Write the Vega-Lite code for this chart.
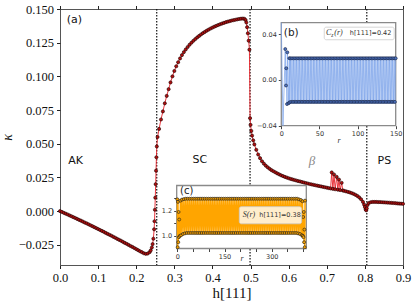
{
"$schema": "https://vega.github.io/schema/vega-lite/v6.json",
"width": 343, "height": 256,
"autosize": {"type": "none"},
"padding": {"left": 60, "top": 9, "right": 13, "bottom": 39},
"config": {
  "view": {"stroke": "#555", "strokeWidth": 1},
  "axis": {"domain": false, "grid": false, "tickColor": "#222", "tickSize": 3.5, "labelColor": "#111", "labelOverlap": false, "labelFlush": false}
},
"datasets": {
  "vl": [{"h": 0.2538}, {"h": 0.4987}, {"h": 0.805}],
  "main": [
{"h":0,"k":0},{"h":0.005,"k":-0.0006},{"h":0.01,"k":-0.0013},{"h":0.015,"k":-0.0019},{"h":0.02,"k":-0.0025},{"h":0.025,"k":-0.0032},{"h":0.03,"k":-0.0038},{"h":0.035,"k":-0.0045},{"h":0.04,"k":-0.0051},{"h":0.045,"k":-0.0058},{"h":0.05,"k":-0.0065},{"h":0.055,"k":-0.0071},{"h":0.06,"k":-0.0078},{"h":0.065,"k":-0.0085},{"h":0.07,"k":-0.0091},{"h":0.075,"k":-0.0098},{"h":0.08,"k":-0.0105},{"h":0.085,"k":-0.0112},{"h":0.09,"k":-0.0119},{"h":0.095,"k":-0.0126},{"h":0.1,"k":-0.0133},{"h":0.105,"k":-0.014},{"h":0.11,"k":-0.0147},{"h":0.115,"k":-0.0154},{"h":0.12,"k":-0.0162},{"h":0.125,"k":-0.0169},{"h":0.13,"k":-0.0176},{"h":0.135,"k":-0.0183},{"h":0.14,"k":-0.0191},{"h":0.145,"k":-0.0198},{"h":0.15,"k":-0.0206},{"h":0.155,"k":-0.0213},{"h":0.16,"k":-0.022},{"h":0.165,"k":-0.0228},{"h":0.17,"k":-0.0236},{"h":0.175,"k":-0.0243},{"h":0.18,"k":-0.0251},{"h":0.185,"k":-0.0259},{"h":0.19,"k":-0.0266},{"h":0.195,"k":-0.0274},{"h":0.2,"k":-0.0282},{"h":0.205,"k":-0.029},{"h":0.21,"k":-0.0298},{"h":0.215,"k":-0.0305},{"h":0.22,"k":-0.0313},{"h":0.225,"k":-0.0317},{"h":0.23,"k":-0.0315},{"h":0.235,"k":-0.0305},{"h":0.238,"k":-0.0292},{"h":0.241,"k":-0.027},{"h":0.243,"k":-0.0245},{"h":0.245,"k":-0.0205},{"h":0.247,"k":-0.0135},{"h":0.248,"k":-0.0075},{"h":0.249,"k":0.001},{"h":0.25,"k":0.01},{"h":0.251,"k":0.02},{"h":0.252,"k":0.03},{"h":0.253,"k":0.04},{"h":0.254,"k":0.048},{"h":0.256,"k":0.055},
{"h":0.26,"k":0.061},{"h":0.265,"k":0.068},{"h":0.27,"k":0.074},{"h":0.275,"k":0.08},{"h":0.28,"k":0.0855},{"h":0.285,"k":0.0905},{"h":0.29,"k":0.0955},{"h":0.295,"k":0.1},{"h":0.3,"k":0.104},{"h":0.305,"k":0.1075},{"h":0.31,"k":0.1105},{"h":0.315,"k":0.1133},{"h":0.32,"k":0.1158},{"h":0.325,"k":0.118},{"h":0.33,"k":0.12},{"h":0.335,"k":0.1218},{"h":0.34,"k":0.1235},{"h":0.345,"k":0.125},{"h":0.35,"k":0.1264},{"h":0.355,"k":0.1277},{"h":0.36,"k":0.1289},{"h":0.365,"k":0.13},{"h":0.37,"k":0.1311},{"h":0.375,"k":0.1321},{"h":0.38,"k":0.133},{"h":0.385,"k":0.1339},{"h":0.39,"k":0.1347},{"h":0.395,"k":0.1355},{"h":0.4,"k":0.1362},{"h":0.405,"k":0.1369},{"h":0.41,"k":0.1375},{"h":0.415,"k":0.1381},{"h":0.42,"k":0.1387},{"h":0.425,"k":0.1392},{"h":0.43,"k":0.1397},{"h":0.435,"k":0.1402},{"h":0.44,"k":0.1406},{"h":0.445,"k":0.141},{"h":0.45,"k":0.1414},{"h":0.455,"k":0.1417},{"h":0.46,"k":0.142},{"h":0.465,"k":0.1423},{"h":0.47,"k":0.1426},{"h":0.475,"k":0.1428},{"h":0.48,"k":0.1429},{"h":0.484,"k":0.1427},{"h":0.487,"k":0.1418},{"h":0.489,"k":0.14},{"h":0.491,"k":0.1365},{"h":0.493,"k":0.132},{"h":0.495,"k":0.1265},{"h":0.497,"k":0.1198},{"h":0.4987,"k":0.069},{"h":0.5,"k":0.064},{"h":0.502,"k":0.0595},{"h":0.504,"k":0.056},{"h":0.507,"k":0.0525},{"h":0.51,"k":0.0495},{"h":0.515,"k":0.0455},{"h":0.52,"k":0.042},{"h":0.525,"k":0.0393},{"h":0.53,"k":0.037},{"h":0.535,"k":0.0352},{"h":0.54,"k":0.0337},{"h":0.545,"k":0.0325},{"h":0.55,"k":0.0314},{"h":0.555,"k":0.0304},{"h":0.56,"k":0.0296},{"h":0.565,"k":0.0288},{"h":0.57,"k":0.028},{"h":0.575,"k":0.0273},{"h":0.58,"k":0.0266},{"h":0.585,"k":0.026},{"h":0.59,"k":0.0254},{"h":0.595,"k":0.0249},{"h":0.6,"k":0.0244},{"h":0.605,"k":0.0239},{"h":0.61,"k":0.0235},{"h":0.615,"k":0.0231},{"h":0.62,"k":0.0227},{"h":0.625,"k":0.0223},{"h":0.63,"k":0.022},{"h":0.635,"k":0.0216},{"h":0.64,"k":0.0212},{"h":0.645,"k":0.0208},{"h":0.65,"k":0.0205},{"h":0.655,"k":0.0201},{"h":0.66,"k":0.0198},{"h":0.665,"k":0.0195},{"h":0.67,"k":0.0192},{"h":0.675,"k":0.0189},{"h":0.68,"k":0.0186},{"h":0.685,"k":0.0183},{"h":0.69,"k":0.018},{"h":0.695,"k":0.0177},{"h":0.7,"k":0.0174},{"h":0.705,"k":0.0171},{"h":0.71,"k":0.0168},{"h":0.713,"k":0.0287},{"h":0.716,"k":0.0165},{"h":0.719,"k":0.0272},{"h":0.722,"k":0.0162},{"h":0.726,"k":0.0254},{"h":0.729,"k":0.0159},{"h":0.732,"k":0.0234},{"h":0.735,"k":0.0156},{"h":0.739,"k":0.021},{"h":0.742,"k":0.0153},{"h":0.745,"k":0.0151},{"h":0.75,"k":0.0147},{"h":0.755,"k":0.0143},{"h":0.76,"k":0.0139},{"h":0.765,"k":0.0134},{"h":0.77,"k":0.0128},{"h":0.775,"k":0.0121},{"h":0.78,"k":0.0113},{"h":0.785,"k":0.0102},{"h":0.79,"k":0.0088},{"h":0.795,"k":0.0068},{"h":0.798,"k":0.0048},{"h":0.8,"k":0.003},{"h":0.802,"k":0.0012},{"h":0.8035,"k":0.0006},{"h":0.805,"k":0.002},{"h":0.807,"k":0.0045},{"h":0.81,"k":0.006},{"h":0.815,"k":0.0066},{"h":0.82,"k":0.0068},{"h":0.825,"k":0.0068},{"h":0.83,"k":0.0068},{"h":0.835,"k":0.0067},{"h":0.84,"k":0.0067},{"h":0.845,"k":0.0066},{"h":0.85,"k":0.0065},{"h":0.855,"k":0.0064},{"h":0.86,"k":0.0063},{"h":0.865,"k":0.0062},{"h":0.87,"k":0.0061},{"h":0.875,"k":0.006},{"h":0.88,"k":0.0059},{"h":0.885,"k":0.0057},{"h":0.89,"k":0.0056},{"h":0.895,"k":0.0055},{"h":0.9,"k":0.0054}
  ],
  "labels": [{"t":"(a)","h":0.038,"k":0.1415},{"t":"AK","h":0.041,"k":0.0374},{"t":"SC","h":0.367,"k":0.0377},{"t":"PS","h":0.851,"k":0.0374}],
  "cz": [
{"r":0,"c":0.25},{"r":2.2,"c":-0.12},{"r":5.2,"c":0.027},{"r":6.2,"c":-0.0049},{"r":6.5,"c":0.0102},{"r":7.5,"c":-0.0211},{"r":7.9,"c":0.0241},{"r":9.7,"c":-0.0203},{"r":10.5,"c":0.019},{"r":11,"c":-0.0195},
{"r":12,"c":0.0189},{"r":13,"c":-0.0192},{"r":14,"c":0.0189},{"r":15,"c":-0.0192},{"r":16,"c":0.0189},{"r":17,"c":-0.0192},{"r":18,"c":0.0189},{"r":19,"c":-0.0192},{"r":20,"c":0.0189},{"r":21,"c":-0.0192},{"r":22,"c":0.0189},{"r":23,"c":-0.0192},{"r":24,"c":0.0189},{"r":25,"c":-0.0192},{"r":26,"c":0.0189},{"r":27,"c":-0.0192},{"r":28,"c":0.0189},{"r":29,"c":-0.0192},{"r":30,"c":0.0189},{"r":31,"c":-0.0192},{"r":32,"c":0.0189},{"r":33,"c":-0.0192},{"r":34,"c":0.0189},{"r":35,"c":-0.0192},{"r":36,"c":0.0189},{"r":37,"c":-0.0192},{"r":38,"c":0.0189},{"r":39,"c":-0.0192},{"r":40,"c":0.0189},{"r":41,"c":-0.0192},{"r":42,"c":0.0189},{"r":43,"c":-0.0192},{"r":44,"c":0.0189},{"r":45,"c":-0.0192},{"r":46,"c":0.0189},{"r":47,"c":-0.0192},{"r":48,"c":0.0189},{"r":49,"c":-0.0192},{"r":50,"c":0.0189},{"r":51,"c":-0.0192},{"r":52,"c":0.0189},{"r":53,"c":-0.0192},{"r":54,"c":0.0189},{"r":55,"c":-0.0192},{"r":56,"c":0.0189},{"r":57,"c":-0.0192},{"r":58,"c":0.0189},{"r":59,"c":-0.0192},{"r":60,"c":0.0189},{"r":61,"c":-0.0192},{"r":62,"c":0.0189},{"r":63,"c":-0.0192},{"r":64,"c":0.0189},{"r":65,"c":-0.0192},{"r":66,"c":0.0189},{"r":67,"c":-0.0192},{"r":68,"c":0.0189},{"r":69,"c":-0.0192},{"r":70,"c":0.0189},{"r":71,"c":-0.0192},{"r":72,"c":0.0189},{"r":73,"c":-0.0192},{"r":74,"c":0.0189},{"r":75,"c":-0.0192},{"r":76,"c":0.0189},{"r":77,"c":-0.0192},{"r":78,"c":0.0189},{"r":79,"c":-0.0192},{"r":80,"c":0.0189},{"r":81,"c":-0.0192},{"r":82,"c":0.0189},{"r":83,"c":-0.0192},{"r":84,"c":0.0189},{"r":85,"c":-0.0192},{"r":86,"c":0.0189},{"r":87,"c":-0.0192},{"r":88,"c":0.0189},{"r":89,"c":-0.0192},{"r":90,"c":0.0189},{"r":91,"c":-0.0192},{"r":92,"c":0.0189},{"r":93,"c":-0.0192},{"r":94,"c":0.0189},{"r":95,"c":-0.0192},{"r":96,"c":0.0189},{"r":97,"c":-0.0192},{"r":98,"c":0.0189},{"r":99,"c":-0.0192},{"r":100,"c":0.0189},{"r":101,"c":-0.0192},{"r":102,"c":0.0189},{"r":103,"c":-0.0192},{"r":104,"c":0.0189},{"r":105,"c":-0.0192},{"r":106,"c":0.0189},{"r":107,"c":-0.0192},{"r":108,"c":0.0189},{"r":109,"c":-0.0192},{"r":110,"c":0.0189},{"r":111,"c":-0.0192},{"r":112,"c":0.0189},{"r":113,"c":-0.0192},{"r":114,"c":0.0189},{"r":115,"c":-0.0192},{"r":116,"c":0.0189},{"r":117,"c":-0.0192},{"r":118,"c":0.0189},{"r":119,"c":-0.0192},{"r":120,"c":0.0189},{"r":121,"c":-0.0192},{"r":122,"c":0.0189},{"r":123,"c":-0.0192},{"r":124,"c":0.0189},{"r":125,"c":-0.0192},{"r":126,"c":0.0189},{"r":127,"c":-0.0192},{"r":128,"c":0.0189},{"r":129,"c":-0.0192},{"r":130,"c":0.0189},{"r":131,"c":-0.0192},{"r":132,"c":0.0189},{"r":133,"c":-0.0192},{"r":134,"c":0.0189},{"r":135,"c":-0.0192},{"r":136,"c":0.0189},{"r":137,"c":-0.0192},{"r":138,"c":0.0189},{"r":139,"c":-0.0192},{"r":140,"c":0.0189},{"r":141,"c":-0.0192},{"r":142,"c":0.0189},{"r":143,"c":-0.0192},{"r":144,"c":0.0189},{"r":145,"c":-0.0192},{"r":146,"c":0.0189},{"r":147,"c":-0.0192},{"r":148,"c":0.0189},{"r":149,"c":-0.0192},{"r":150,"c":0.0189}
  ],
  "sr": [
{"r":0,"s":1.29},{"r":1,"s":0.91},{"r":2,"s":1.27},{"r":3,"s":0.95},{"r":4,"s":1.19},{"r":5,"s":0.99},{"r":6,"s":1.13},{"r":8,"s":1.0},{"r":10,"s":1.28},{"r":12,"s":1.005},{"r":15,"s":1.288},{"r":18,"s":1.015},{"r":21,"s":1.292},{"r":24,"s":1.02},
{"r":27,"s":1.295},{"r":30,"s":1.023},{"r":33,"s":1.295},{"r":36,"s":1.023},{"r":39,"s":1.295},{"r":42,"s":1.023},{"r":45,"s":1.295},{"r":48,"s":1.023},{"r":51,"s":1.295},{"r":54,"s":1.023},{"r":57,"s":1.295},{"r":60,"s":1.023},{"r":63,"s":1.295},{"r":66,"s":1.023},{"r":69,"s":1.295},{"r":72,"s":1.023},{"r":75,"s":1.295},{"r":78,"s":1.023},{"r":81,"s":1.295},{"r":84,"s":1.023},{"r":87,"s":1.295},{"r":90,"s":1.023},{"r":93,"s":1.295},{"r":96,"s":1.023},{"r":99,"s":1.295},{"r":102,"s":1.023},{"r":105,"s":1.295},{"r":108,"s":1.023},{"r":111,"s":1.295},{"r":114,"s":1.023},{"r":117,"s":1.295},{"r":120,"s":1.023},{"r":123,"s":1.295},{"r":126,"s":1.023},{"r":129,"s":1.295},{"r":132,"s":1.023},{"r":135,"s":1.295},{"r":138,"s":1.023},{"r":141,"s":1.295},{"r":144,"s":1.023},{"r":147,"s":1.295},{"r":150,"s":1.023},{"r":153,"s":1.295},{"r":156,"s":1.023},{"r":159,"s":1.295},{"r":162,"s":1.023},{"r":165,"s":1.295},{"r":168,"s":1.023},{"r":171,"s":1.295},{"r":174,"s":1.023},{"r":177,"s":1.295},{"r":180,"s":1.023},{"r":183,"s":1.295},{"r":186,"s":1.023},{"r":189,"s":1.295},{"r":192,"s":1.023},{"r":195,"s":1.295},{"r":198,"s":1.023},{"r":201,"s":1.295},{"r":204,"s":1.023},{"r":207,"s":1.295},{"r":210,"s":1.023},{"r":213,"s":1.295},{"r":216,"s":1.023},{"r":219,"s":1.295},{"r":222,"s":1.023},{"r":225,"s":1.295},{"r":228,"s":1.023},{"r":231,"s":1.295},{"r":234,"s":1.023},{"r":237,"s":1.295},{"r":240,"s":1.023},{"r":243,"s":1.295},{"r":246,"s":1.023},{"r":249,"s":1.295},{"r":252,"s":1.023},{"r":255,"s":1.295},{"r":258,"s":1.023},{"r":261,"s":1.295},{"r":264,"s":1.023},{"r":267,"s":1.295},{"r":270,"s":1.023},{"r":273,"s":1.295},{"r":276,"s":1.023},{"r":279,"s":1.295},{"r":282,"s":1.023},{"r":285,"s":1.295},{"r":288,"s":1.023},{"r":291,"s":1.295},{"r":294,"s":1.023},{"r":297,"s":1.295},{"r":300,"s":1.023},{"r":303,"s":1.295},{"r":306,"s":1.023},{"r":309,"s":1.295},{"r":312,"s":1.023},{"r":315,"s":1.295},{"r":318,"s":1.023},{"r":321,"s":1.295},{"r":324,"s":1.023},{"r":327,"s":1.295},{"r":330,"s":1.023},{"r":333,"s":1.295},{"r":336,"s":1.023},{"r":339,"s":1.295},{"r":342,"s":1.023},{"r":345,"s":1.295},{"r":348,"s":1.023},{"r":351,"s":1.295},{"r":354,"s":1.023},{"r":357,"s":1.295},{"r":360,"s":1.023},{"r":363,"s":1.295},{"r":366,"s":1.023},{"r":369,"s":1.295},{"r":372,"s":1.023},{"r":375,"s":1.295},{"r":378,"s":1.023},{"r":381,"s":1.295},
{"r":384,"s":1.02},{"r":387,"s":1.29},{"r":390,"s":1.015},{"r":393,"s":1.285},{"r":396,"s":1.005},{"r":398,"s":1.275},{"r":399,"s":1.0},{"r":400,"s":1.15},{"r":401,"s":0.99},{"r":402,"s":1.19},{"r":403,"s":0.95},{"r":404,"s":1.05},{"r":405,"s":0.91},{"r":406,"s":1.28}
  ],
  "one": [{}]
},
"layer": [
  {
    "data": {"name": "vl"},
    "mark": {"type": "rule", "color": "#111", "strokeWidth": 1.2, "strokeDash": [1.5, 1.5]},
    "encoding": {
      "x": {"field": "h", "type": "quantitative", "scale": {"domain": [0, 0.9], "nice": false},
        "axis": {"orient": "top", "labels": false, "title": null, "values": [0,0.1,0.2,0.3,0.4,0.5,0.6,0.7,0.8,0.9], "tickSize": 3.5}}
    }
  },
  {
    "data": {"name": "main"},
    "mark": {"type": "line", "color": "#e8222a", "strokeWidth": 0.9},
    "encoding": {
      "x": {"field": "h", "type": "quantitative", "scale": {"domain": [0, 0.9], "nice": false},
        "axis": {"orient": "bottom", "values": [0,0.1,0.2,0.3,0.4,0.5,0.6,0.7,0.8,0.9], "format": ".1f",
          "labelFont": "Liberation Serif", "labelFontSize": 12.5, "labelPadding": 3,
          "title": "h[111]", "titleFont": "Liberation Serif", "titleFontSize": 15, "titleFontWeight": "normal", "titlePadding": 1, "titleColor": "#111"}},
      "y": {"field": "k", "type": "quantitative", "scale": {"domain": [-0.04, 0.15], "nice": false, "zero": false},
        "axis": {"orient": "left", "values": [-0.025,0,0.025,0.05,0.075,0.1,0.125,0.15], "format": ".3f",
          "labelFont": "Liberation Serif", "labelFontSize": 12.5, "labelPadding": 3,
          "title": "κ", "titleFont": "Liberation Serif", "titleFontStyle": "italic", "titleFontSize": 14, "titleFontWeight": "normal", "titlePadding": 4, "titleColor": "#111"}}
    }
  },
  {
    "data": {"name": "main"},
    "mark": {"type": "point", "shape": "circle", "filled": true, "fill": "#b01010", "stroke": "#1a0000", "strokeWidth": 0.6, "size": 10, "opacity": 1},
    "encoding": {
      "x": {"field": "h", "type": "quantitative", "scale": {"domain": [0, 0.9], "nice": false}, "axis": null},
      "y": {"field": "k", "type": "quantitative", "scale": {"domain": [-0.04, 0.15], "nice": false, "zero": false}, "axis": null}
    }
  },
  {
    "data": {"name": "labels"},
    "mark": {"type": "text", "font": "DejaVu Sans", "fontSize": 11, "color": "#111", "align": "center", "baseline": "middle"},
    "encoding": {
      "x": {"field": "h", "type": "quantitative", "scale": {"domain": [0, 0.9], "nice": false}, "axis": null},
      "y": {"field": "k", "type": "quantitative", "scale": {"domain": [-0.04, 0.15], "nice": false, "zero": false}, "axis": null},
      "text": {"field": "t"}
    }
  },
  {
    "data": {"name": "one"},
    "mark": {"type": "text", "font": "Liberation Serif", "fontStyle": "italic", "fontSize": 13, "color": "#888", "align": "center", "baseline": "middle"},
    "encoding": {
      "x": {"datum": 0.661, "type": "quantitative", "scale": {"domain": [0, 0.9], "nice": false}, "axis": null},
      "y": {"datum": 0.0374, "type": "quantitative", "scale": {"domain": [-0.04, 0.15], "nice": false, "zero": false}, "axis": null},
      "text": {"value": "β"}
    }
  },
  {
    "layer": [
      {
        "data": {"name": "one"},
        "mark": {"type": "rect", "fill": "white", "stroke": "#8a8a8a", "strokeWidth": 1.3},
        "encoding": {
          "x": {"datum": 0, "type": "quantitative", "scale": {"domain": [0, 150], "range": [221.3, 335.7], "nice": false, "clamp": true},
            "axis": {"orient": "bottom", "offset": -139.3, "values": [0, 50, 100, 150], "tickSize": 3, "tickColor": "#444",
              "labelFont": "DejaVu Sans", "labelFontSize": 6.5, "labelColor": "#333", "labelPadding": 2,
              "title": "r", "titleFont": "Liberation Serif", "titleFontStyle": "italic", "titleFontWeight": "normal", "titleFontSize": 8, "titleColor": "#333", "titlePadding": -1}},
          "x2": {"datum": 150},
          "y": {"datum": -0.04, "type": "quantitative", "scale": {"domain": [-0.04, 0.05], "range": [116.7, 13.7], "nice": false, "zero": false, "clamp": true},
            "axis": {"orient": "left", "offset": -221.3, "values": [-0.04, 0, 0.04], "format": ".2f", "tickSize": 3, "tickColor": "#444",
              "labelFont": "DejaVu Sans", "labelFontSize": 6.5, "labelColor": "#333", "labelPadding": 2, "title": null}},
          "y2": {"datum": 0.05}
        }
      },
      {
        "data": {"name": "cz"},
        "mark": {"type": "line", "color": "#7fa6ea", "strokeWidth": 0.9, "opacity": 0.85},
        "encoding": {
          "x": {"field": "r", "type": "quantitative"},
          "y": {"field": "c", "type": "quantitative"}
        }
      },
      {
        "data": {"name": "cz"},
        "transform": [{"filter": "datum.c < 0.05 && datum.c > -0.04"}],
        "mark": {"type": "point", "shape": "circle", "filled": true, "fill": "#4f74c0", "stroke": "#14203f", "strokeWidth": 0.6, "size": 9, "opacity": 1},
        "encoding": {
          "x": {"field": "r", "type": "quantitative"},
          "y": {"field": "c", "type": "quantitative"}
        }
      },
      {
        "data": {"name": "one"},
        "mark": {"type": "rect", "fill": "white", "fillOpacity": 0.85, "stroke": "#cccccc", "strokeWidth": 0.8, "cornerRadius": 2},
        "encoding": {
          "x": {"datum": 56.3, "type": "quantitative"}, "x2": {"datum": 148},
          "y": {"datum": 0.0351, "type": "quantitative"}, "y2": {"datum": 0.0461}
        }
      },
      {
        "data": {"name": "one"},
        "mark": {"type": "text", "font": "Liberation Serif", "fontStyle": "italic", "fontSize": 8, "color": "#333", "align": "left", "baseline": "middle"},
        "encoding": {"x": {"datum": 58.5, "type": "quantitative"}, "y": {"datum": 0.0406, "type": "quantitative"}, "text": {"value": "C"}}
      },
      {
        "data": {"name": "one"},
        "mark": {"type": "text", "font": "Liberation Serif", "fontStyle": "italic", "fontSize": 5.5, "color": "#333", "align": "left", "baseline": "middle", "dx": 5.3, "dy": 2},
        "encoding": {"x": {"datum": 58.5, "type": "quantitative"}, "y": {"datum": 0.0406, "type": "quantitative"}, "text": {"value": "z"}}
      },
      {
        "data": {"name": "one"},
        "mark": {"type": "text", "font": "Liberation Serif", "fontStyle": "italic", "fontSize": 8, "color": "#333", "align": "left", "baseline": "middle", "dx": 8.3},
        "encoding": {"x": {"datum": 58.5, "type": "quantitative"}, "y": {"datum": 0.0406, "type": "quantitative"}, "text": {"value": "(r)"}}
      },
      {
        "data": {"name": "one"},
        "mark": {"type": "text", "font": "DejaVu Sans", "fontSize": 6.5, "color": "#333", "align": "left", "baseline": "middle"},
        "encoding": {"x": {"datum": 89.9, "type": "quantitative"}, "y": {"datum": 0.0406, "type": "quantitative"}, "text": {"value": "h[111]=0.42"}}
      },
      {
        "data": {"name": "one"},
        "mark": {"type": "text", "font": "DejaVu Sans", "fontSize": 10.5, "color": "#222", "align": "center", "baseline": "middle"},
        "encoding": {"x": {"datum": 13, "type": "quantitative"}, "y": {"datum": 0.0406, "type": "quantitative"}, "text": {"value": "(b)"}}
      }
    ]
  },
  {
    "layer": [
      {
        "data": {"name": "one"},
        "mark": {"type": "rect", "fill": "white", "stroke": "#8a8a8a", "strokeWidth": 1.3},
        "encoding": {
          "x": {"datum": -2, "type": "quantitative", "scale": {"domain": [-2, 410], "range": [116.7, 246.3], "nice": false, "clamp": true},
            "axis": {"orient": "bottom", "offset": -16.5, "values": [0,25,50,75,100,125,150,175,200,225,250,275,300,325,350,375,400],
              "labelExpr": "datum.value % 150 == 0 ? datum.label : ''", "tickSize": 3, "tickColor": "#444",
              "labelFont": "DejaVu Sans", "labelFontSize": 6.5, "labelColor": "#333", "labelPadding": 2,
              "title": "r", "titleFont": "Liberation Serif", "titleFontStyle": "italic", "titleFontWeight": "normal", "titleFontSize": 8, "titleColor": "#333",
              "titleBaseline": "alphabetic", "titleY": 12}},
          "x2": {"datum": 410},
          "y": {"datum": 0.9, "type": "quantitative", "scale": {"domain": [0.9, 1.4], "range": [239.5, 176.5], "nice": false, "zero": false, "clamp": true},
            "axis": {"orient": "left", "offset": -116.7, "values": [1.0, 1.1, 1.2, 1.3],
              "labelExpr": "datum.value == 1 || datum.value == 1.2 ? format(datum.value, '.1f') : ''", "tickSize": 3, "tickColor": "#444",
              "labelFont": "DejaVu Sans", "labelFontSize": 6.5, "labelColor": "#333", "labelPadding": 2, "title": null}},
          "y2": {"datum": 1.4}
        }
      },
      {
        "data": {"name": "sr"},
        "mark": {"type": "line", "color": "#ffa500", "strokeWidth": 1.5},
        "encoding": {
          "x": {"field": "r", "type": "quantitative"},
          "y": {"field": "s", "type": "quantitative"}
        }
      },
      {
        "data": {"name": "sr"},
        "mark": {"type": "point", "shape": "circle", "filled": true, "fill": "#f5a000", "stroke": "#1a1a1a", "strokeWidth": 0.6, "size": 9, "opacity": 1},
        "encoding": {
          "x": {"field": "r", "type": "quantitative"},
          "y": {"field": "s", "type": "quantitative"}
        }
      },
      {
        "data": {"name": "one"},
        "mark": {"type": "rect", "fill": "white", "fillOpacity": 0.8, "stroke": "#cccccc", "strokeWidth": 0.8, "cornerRadius": 2},
        "encoding": {
          "x": {"datum": 197, "type": "quantitative"}, "x2": {"datum": 395},
          "y": {"datum": 1.096, "type": "quantitative"}, "y2": {"datum": 1.232}
        }
      },
      {
        "data": {"name": "one"},
        "mark": {"type": "text", "font": "Liberation Serif", "fontStyle": "italic", "fontSize": 8, "color": "#333", "align": "left", "baseline": "middle"},
        "encoding": {"x": {"datum": 207.9, "type": "quantitative"}, "y": {"datum": 1.164, "type": "quantitative"}, "text": {"value": "S(r)"}}
      },
      {
        "data": {"name": "one"},
        "mark": {"type": "text", "font": "DejaVu Sans", "fontSize": 6.5, "color": "#333", "align": "left", "baseline": "middle"},
        "encoding": {"x": {"datum": 260.6, "type": "quantitative"}, "y": {"datum": 1.164, "type": "quantitative"}, "text": {"value": "h[111]=0.38"}}
      },
      {
        "data": {"name": "one"},
        "mark": {"type": "text", "font": "DejaVu Sans", "fontSize": 10, "color": "#222", "align": "center", "baseline": "middle"},
        "encoding": {"x": {"datum": 30, "type": "quantitative"}, "y": {"datum": 1.358, "type": "quantitative"}, "text": {"value": "(c)"}}
      }
    ]
  }
],
"resolve": {"scale": {"x": "independent", "y": "independent"}, "axis": {"x": "independent", "y": "independent"}}
}
